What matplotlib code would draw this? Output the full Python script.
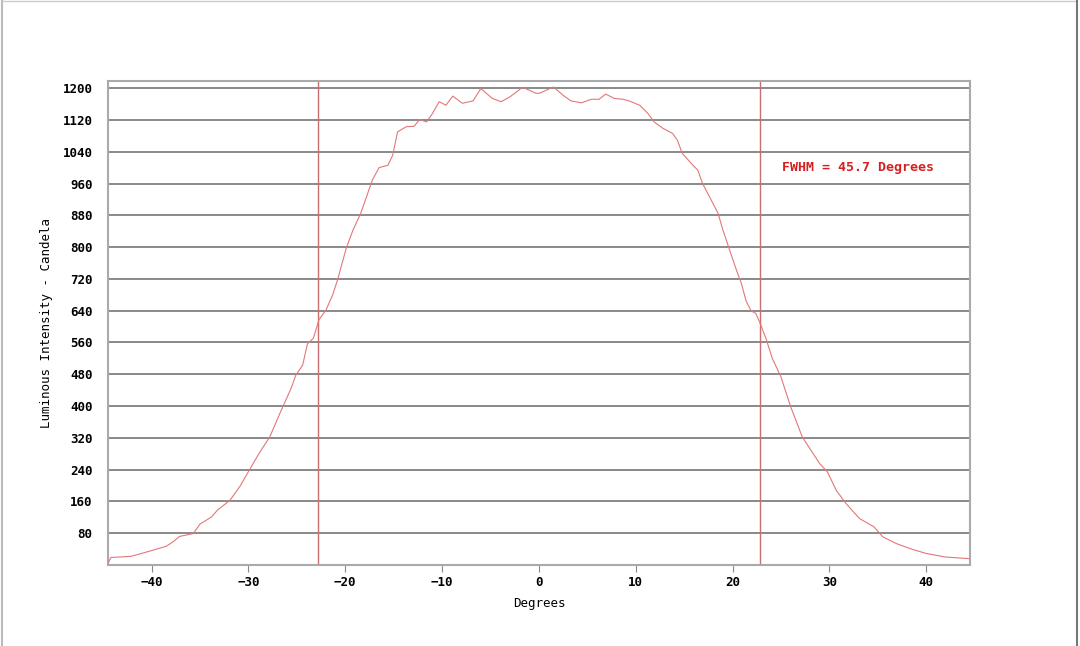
import matplotlib.pyplot as plt
from matplotlib.lines import Line2D

# beam profile
degrees = [-44.5, -44.2, -43.3, -42.1, -40.9, -39.9, -38.5, -37.8, -37.1, -35.7,
           -35.0, -33.8, -33.2, -31.9, -30.9, -29.9, -28.9, -27.8, -26.6, -25.6,
           -25.1, -24.4, -23.9, -23.3, -22.7, -22.0, -21.3, -20.8, -19.9, -19.2,
           -18.4, -17.8, -17.2, -16.5, -15.6, -15.1, -14.6, -13.7, -12.9, -12.3,
           -11.6, -11.0, -10.3, -9.6, -8.9, -7.9, -6.8, -6.0, -4.8, -3.9,
           -3.0, -1.7, -1.0, -0.3, 0.05, 1.5, 2.5, 3.3, 4.4, 5.4,
           6.2, 6.9, 7.8, 8.7, 9.3, 10.4, 11.2, 11.9, 12.8, 13.8,
           14.3, 14.8, 15.9, 16.4, 16.9, 17.8, 18.5, 19.0, 19.7, 20.4,
           20.9, 21.4, 21.9, 22.4, 22.9, 23.5, 24.1, 25.0, 26.0, 27.2,
           29.0, 29.8, 30.7, 31.7, 33.1, 34.6, 35.5, 36.9, 38.6, 40.0,
           42.0, 44.4]
candela = [4, 19, 20, 22, 30, 37, 47, 58, 72, 79,
           103, 121, 138, 163, 197, 239, 281, 322, 390, 444,
           478, 503, 557, 570, 618, 641, 680, 717, 797, 843,
           885, 927, 969, 1000, 1006, 1031, 1090, 1103, 1104, 1121,
           1115, 1136, 1166, 1157, 1180, 1162, 1168, 1199, 1174, 1166,
           1178, 1202, 1195, 1187, 1187, 1203, 1182, 1168, 1163, 1172,
           1172, 1185, 1174, 1172, 1168, 1157, 1138, 1115, 1099, 1086,
           1069, 1036, 1006, 994, 960, 918, 885, 843, 792, 742,
           709, 664, 640, 633, 605, 566, 520, 473, 398, 322,
           255, 234, 188, 155, 117, 96, 71, 54, 39, 29,
           20, 16]

fwhm_edges = [-22.85, 22.85]
fwhm_label = "FWHM = 45.7 Degrees"
y_ticks = [80, 160, 240, 320, 400, 480, 560, 640, 720, 800, 880, 960, 1040, 1120, 1200]
x_ticks = [-40, -30, -20, -10, 0, 10, 20, 30, 40]

mono = "DejaVu Sans Mono"
red = "#e27878"

fig = plt.figure(figsize=(10.8, 6.46), dpi=100)
ax = fig.add_axes([0.1, 0.1254, 0.798, 0.7492])

for y in y_ticks:
    ax.axhline(y, color="#808080", lw=1.3, zorder=1)

for x in fwhm_edges:
    ax.axvline(x, color="#c87070", lw=1.0, zorder=2)

ax.plot(degrees, candela, color=red, lw=0.8, zorder=3)

ax.text(25.1, 1001, fwhm_label, color="#d42020", fontsize=9.5, family=mono,
        fontweight="bold", va="center", ha="left")

ax.set_xlim(-44.5, 44.5)
ax.set_ylim(0, 1218)
ax.set_yticks(y_ticks)
ax.set_yticklabels([str(v) for v in y_ticks])
ax.set_xticks(x_ticks)
ax.tick_params(axis="y", length=0, pad=11)
ax.tick_params(axis="x", length=5, color="#888888", direction="out", pad=3)
for lab in ax.get_yticklabels() + ax.get_xticklabels():
    lab.set_family(mono)
    lab.set_fontweight("bold")
    lab.set_fontsize(9)

for s in ax.spines.values():
    s.set_color("#aaaaaa")
    s.set_linewidth(1.5)

ax.set_xlabel("Degrees", family=mono, fontsize=9, labelpad=6)
ax.set_ylabel("Luminous Intensity - Candela", family=mono, fontsize=9, labelpad=7)

# thin frame around the picture
fig.add_artist(Line2D([0.002, 0.002], [0, 0.999], color="#bbbbbb", lw=1.5))
fig.add_artist(Line2D([0.002, 0.997], [0.998, 0.998], color="#cccccc", lw=1.0))
fig.add_artist(Line2D([0.997, 0.997], [0, 0.999], color="#777777", lw=1.5))

fig.savefig("out.png", dpi=100)
